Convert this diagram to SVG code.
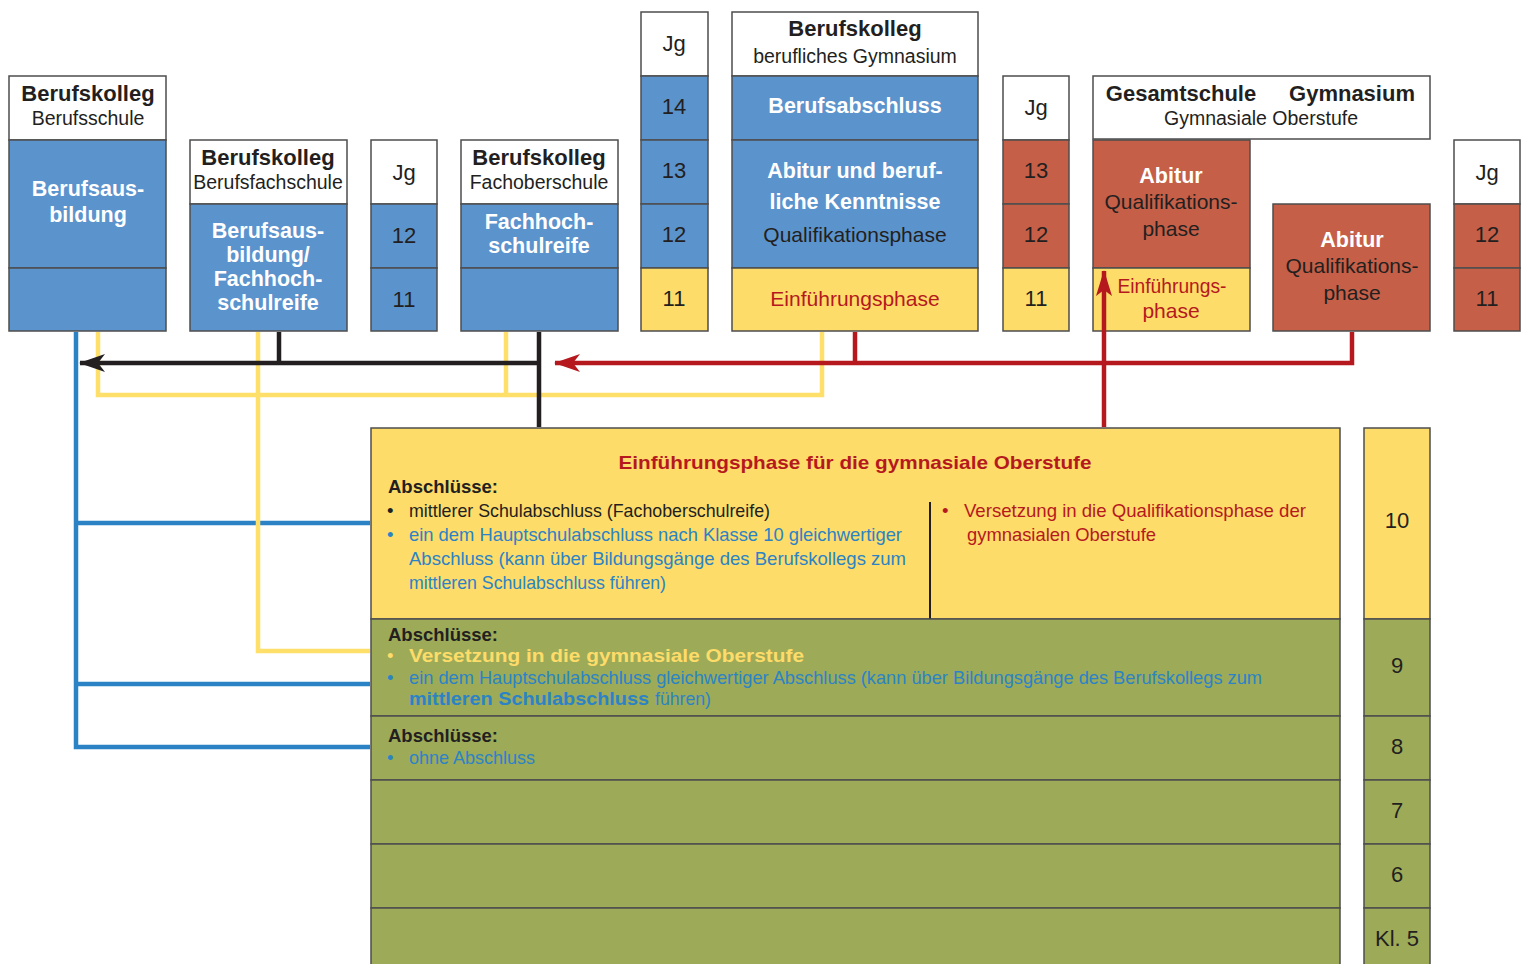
<svg xmlns="http://www.w3.org/2000/svg" width="1524" height="964" viewBox="0 0 1524 964">
  <style>
    .box { stroke: #4d4d4d; stroke-width: 1.5; }
    .white { fill: #ffffff; }
    .blue { fill: #5b93cd; }
    .red { fill: #c55f48; }
    .yellow { fill: #fddc69; }
    .green { fill: #9dab58; }
    text { font-family: "Liberation Sans", Arial, sans-serif; }
    .hb { font-weight: bold; font-size: 22px; fill: #231f20; text-anchor: middle; }
    .hn { font-size: 19.5px; fill: #231f20; text-anchor: middle; }
    .wb { font-weight: bold; font-size: 21.5px; fill: #ffffff; text-anchor: middle; }
    .num { font-size: 22px; fill: #231f20; text-anchor: middle; }
    .dn { font-size: 21px; fill: #231f20; text-anchor: middle; }
    .rn { font-size: 21px; fill: #b5191e; text-anchor: middle; }
    .t { font-size: 18.5px; }
    .k { fill: #231f20; }
    .b { fill: #2b83c6; }
    .r { fill: #b5191e; }
    .y { fill: #fddc69; }
    .bold { font-weight: bold; }
    .ln { fill: none; stroke-width: 4.5; stroke-linejoin: miter; stroke-linecap: butt; }
    .lblue { stroke: #2b83c6; }
    .lyel { stroke: #fedf6a; }
    .lblk { stroke: #231f20; }
    .lred { stroke: #b5191e; }
  </style>
  <defs>
    <marker id="arrowBlack" viewBox="0 0 26 18" refX="25" refY="9" markerWidth="26" markerHeight="18" markerUnits="userSpaceOnUse" orient="auto">
      <path d="M26 9 L0 0 L7 9 L0 18 Z" fill="#231f20"/>
    </marker>
    <marker id="arrowRed" viewBox="0 0 26 18" refX="25" refY="9" markerWidth="26" markerHeight="18" markerUnits="userSpaceOnUse" orient="auto">
      <path d="M26 9 L0 0 L7 9 L0 18 Z" fill="#b5191e"/>
    </marker>
    <marker id="arrowRedNarrow" viewBox="0 0 26 16" refX="25" refY="8" markerWidth="26" markerHeight="16" markerUnits="userSpaceOnUse" orient="auto">
      <path d="M26 8 L0 0 L6 8 L0 16 Z" fill="#b5191e"/>
    </marker>
  </defs>

  <!-- Berufskolleg / Berufsschule -->
  <g id="bk-berufsschule">
    <rect class="box white" x="9" y="76" width="157" height="64"/>
    <rect class="box blue" x="9" y="140" width="157" height="128"/>
    <rect class="box blue" x="9" y="268" width="157" height="63"/>
    <text class="hb" x="88" y="101">Berufskolleg</text>
    <text class="hn" x="88" y="125">Berufsschule</text>
    <text class="wb" x="88" y="196">Berufsaus-</text>
    <text class="wb" x="88" y="222">bildung</text>
  </g>

  <!-- Berufskolleg / Berufsfachschule -->
  <g id="bk-berufsfachschule">
    <rect class="box white" x="190" y="140" width="157" height="64"/>
    <rect class="box blue" x="190" y="204" width="157" height="127"/>
    <text class="hb" x="268" y="165">Berufskolleg</text>
    <text class="hn" x="268" y="189">Berufsfachschule</text>
    <text class="wb" x="268" y="238">Berufsaus-</text>
    <text class="wb" x="268" y="262">bildung/</text>
    <text class="wb" x="268" y="286">Fachhoch-</text>
    <text class="wb" x="268" y="310">schulreife</text>
  </g>

  <!-- Jg column 11-12 -->
  <g id="jg-1">
    <rect class="box white" x="371" y="140" width="66" height="64"/>
    <rect class="box blue" x="371" y="204" width="66" height="64"/>
    <rect class="box blue" x="371" y="268" width="66" height="63"/>
    <text class="num" x="404" y="180">Jg</text>
    <text class="num" x="404" y="243">12</text>
    <text class="num" x="404" y="307">11</text>
  </g>

  <!-- Berufskolleg / Fachoberschule -->
  <g id="bk-fachoberschule">
    <rect class="box white" x="461" y="140" width="157" height="64"/>
    <rect class="box blue" x="461" y="204" width="157" height="64"/>
    <rect class="box blue" x="461" y="268" width="157" height="63"/>
    <text class="hb" x="539" y="165">Berufskolleg</text>
    <text class="hn" x="539" y="189">Fachoberschule</text>
    <text class="wb" x="539" y="229">Fachhoch-</text>
    <text class="wb" x="539" y="253">schulreife</text>
  </g>

  <!-- Jg column 11-14 -->
  <g id="jg-2">
    <rect class="box white" x="641" y="12" width="67" height="64"/>
    <rect class="box blue" x="641" y="76" width="67" height="64"/>
    <rect class="box blue" x="641" y="140" width="67" height="64"/>
    <rect class="box blue" x="641" y="204" width="67" height="64"/>
    <rect class="box yellow" x="641" y="268" width="67" height="63"/>
    <text class="num" x="674" y="51">Jg</text>
    <text class="num" x="674" y="114">14</text>
    <text class="num" x="674" y="178">13</text>
    <text class="num" x="674" y="242">12</text>
    <text class="num" x="674" y="306">11</text>
  </g>

  <!-- Berufskolleg / berufliches Gymnasium -->
  <g id="bk-gymnasium">
    <rect class="box white" x="732" y="12" width="246" height="64"/>
    <rect class="box blue" x="732" y="76" width="246" height="64"/>
    <rect class="box blue" x="732" y="140" width="246" height="128"/>
    <rect class="box yellow" x="732" y="268" width="246" height="63"/>
    <text class="hb" x="855" y="36">Berufskolleg</text>
    <text class="hn" x="855" y="63" font-size="20.5">berufliches Gymnasium</text>
    <text class="wb" x="855" y="113">Berufsabschluss</text>
    <text class="wb" x="855" y="178">Abitur und beruf-</text>
    <text class="wb" x="855" y="209">liche Kenntnisse</text>
    <text class="dn" x="855" y="242">Qualifikationsphase</text>
    <text class="rn" x="855" y="306">Einführungsphase</text>
  </g>

  <!-- Jg column 11-13 -->
  <g id="jg-3">
    <rect class="box white" x="1003" y="76" width="66" height="64"/>
    <rect class="box red" x="1003" y="140" width="66" height="64"/>
    <rect class="box red" x="1003" y="204" width="66" height="64"/>
    <rect class="box yellow" x="1003" y="268" width="66" height="63"/>
    <text class="num" x="1036" y="115">Jg</text>
    <text class="num" x="1036" y="178">13</text>
    <text class="num" x="1036" y="242">12</text>
    <text class="num" x="1036" y="306">11</text>
  </g>

  <!-- Gesamtschule / Gymnasium -->
  <g id="gymnasiale-oberstufe">
    <rect class="box white" x="1093" y="76" width="337" height="63"/>
    <text class="hb" x="1181" y="101">Gesamtschule</text>
    <text class="hb" x="1352" y="101">Gymnasium</text>
    <text class="hn" x="1261" y="125">Gymnasiale Oberstufe</text>
  </g>
  <g id="gesamtschule-abitur">
    <rect class="box red" x="1093" y="140" width="157" height="128"/>
    <rect class="box yellow" x="1093" y="268" width="157" height="63"/>
    <text class="wb" x="1171" y="183">Abitur</text>
    <text class="dn" x="1171" y="209">Qualifikations-</text>
    <text class="dn" x="1171" y="236">phase</text>
    <text class="rn" x="1172" y="293" textLength="109" lengthAdjust="spacingAndGlyphs">Einführungs-</text>
    <text class="rn" x="1171" y="318">phase</text>
  </g>
  <g id="gymnasium-abitur">
    <rect class="box red" x="1273" y="204" width="157" height="127"/>
    <text class="wb" x="1352" y="247">Abitur</text>
    <text class="dn" x="1352" y="273">Qualifikations-</text>
    <text class="dn" x="1352" y="300">phase</text>
  </g>

  <!-- Jg column 11-12 (Gymnasium) -->
  <g id="jg-4">
    <rect class="box white" x="1454" y="140" width="66" height="64"/>
    <rect class="box red" x="1454" y="204" width="66" height="64"/>
    <rect class="box red" x="1454" y="268" width="66" height="63"/>
    <text class="num" x="1487" y="180">Jg</text>
    <text class="num" x="1487" y="242">12</text>
    <text class="num" x="1487" y="306">11</text>
  </g>

  <!-- Sekundarstufe I: class 10 -->
  <g id="klasse-10">
    <rect class="box yellow" x="371" y="428" width="969" height="191"/>
    <line x1="930" y1="502" x2="930" y2="619" stroke="#231f20" stroke-width="2"/>
    <text class="t bold r" x="855" y="469" text-anchor="middle" font-size="19" textLength="473" lengthAdjust="spacingAndGlyphs">Einführungsphase für die gymnasiale Oberstufe</text>
    <text class="t bold k" x="388" y="493" font-size="19.5">Abschlüsse:</text>
    <text class="t k" x="387" y="517">•</text>
    <text class="t k" x="409" y="517" textLength="361" lengthAdjust="spacingAndGlyphs">mittlerer Schulabschluss (Fachoberschulreife)</text>
    <text class="t b" x="387" y="541">•</text>
    <text class="t b" x="409" y="541" textLength="493" lengthAdjust="spacingAndGlyphs">ein dem Hauptschulabschluss nach Klasse 10 gleichwertiger</text>
    <text class="t b" x="409" y="565" textLength="497" lengthAdjust="spacingAndGlyphs">Abschluss (kann über Bildungsgänge des Berufskollegs zum</text>
    <text class="t b" x="409" y="589" textLength="257" lengthAdjust="spacingAndGlyphs">mittleren Schulabschluss führen)</text>
    <text class="t r" x="942" y="517">•</text>
    <text class="t r" x="964" y="517" textLength="342" lengthAdjust="spacingAndGlyphs">Versetzung in die Qualifikationsphase der</text>
    <text class="t r" x="967" y="541" textLength="189" lengthAdjust="spacingAndGlyphs">gymnasialen Oberstufe</text>
  </g>

  <!-- Sekundarstufe I: class 9 -->
  <g id="klasse-9">
    <rect class="box green" x="371" y="619" width="969" height="97"/>
    <text class="t bold k" x="388" y="641" font-size="19.5">Abschlüsse:</text>
    <text class="t y" x="387" y="662">•</text>
    <text class="t bold y" x="409" y="662" textLength="395" lengthAdjust="spacingAndGlyphs">Versetzung in die gymnasiale Oberstufe</text>
    <text class="t b" x="387" y="684">•</text>
    <text class="t b" x="409" y="684" textLength="853" lengthAdjust="spacingAndGlyphs">ein dem Hauptschulabschluss gleichwertiger Abschluss (kann über Bildungsgänge des Berufskollegs zum</text>
    <text class="t bold b" x="409" y="705" textLength="240" lengthAdjust="spacingAndGlyphs">mittleren Schulabschluss</text>
    <text class="t b" x="655" y="705" textLength="56" lengthAdjust="spacingAndGlyphs">führen)</text>
  </g>

  <!-- Sekundarstufe I: class 8 -->
  <g id="klasse-8">
    <rect class="box green" x="371" y="716" width="969" height="64"/>
    <text class="t bold k" x="388" y="742" font-size="19.5">Abschlüsse:</text>
    <text class="t b" x="387" y="764">•</text>
    <text class="t b" x="409" y="764" textLength="126" lengthAdjust="spacingAndGlyphs">ohne Abschluss</text>
  </g>

  <!-- Sekundarstufe I: classes 7, 6, 5 -->
  <g id="klasse-7">
    <rect class="box green" x="371" y="780" width="969" height="64"/>
  </g>
  <g id="klasse-6">
    <rect class="box green" x="371" y="844" width="969" height="64"/>
  </g>
  <g id="klasse-5">
    <rect class="box green" x="371" y="908" width="969" height="70"/>
  </g>

  <!-- class column -->
  <g id="klassen">
    <rect class="box yellow" x="1364" y="428" width="66" height="191"/>
    <rect class="box green" x="1364" y="619" width="66" height="97"/>
    <rect class="box green" x="1364" y="716" width="66" height="64"/>
    <rect class="box green" x="1364" y="780" width="66" height="64"/>
    <rect class="box green" x="1364" y="844" width="66" height="64"/>
    <rect class="box green" x="1364" y="908" width="66" height="70"/>
    <text class="num" x="1397" y="528">10</text>
    <text class="num" x="1397" y="673">9</text>
    <text class="num" x="1397" y="754">8</text>
    <text class="num" x="1397" y="818">7</text>
    <text class="num" x="1397" y="882">6</text>
    <text class="num" x="1397" y="946">Kl. 5</text>
  </g>

  <!-- connectors, drawn over the boxes -->
  <g id="connectors">
    <!-- blue: Berufsschule to the three lower stages -->
    <path class="ln lblue" d="M76 332 V747 H370 M76 523 H370 M76 684 H370"/>
    <!-- yellow: entry paths -->
    <path class="ln lyel" d="M98 332 V395 H822 V332 M506 332 V395"/>
    <path class="ln lyel" d="M258 332 V651 H370"/>
    <!-- black -->
    <path class="ln lblk" d="M539 427 V332 M539 363 H80" marker-end="url(#arrowBlack)"/>
    <path class="ln lblk" d="M279 332 V363"/>
    <!-- red -->
    <path class="ln lred" d="M1352 332 V363 H555" marker-end="url(#arrowRed)"/>
    <path class="ln lred" d="M855 332 V363"/>
    <path class="ln lred" d="M1104 427 V271" marker-end="url(#arrowRedNarrow)"/>
  </g>
</svg>
